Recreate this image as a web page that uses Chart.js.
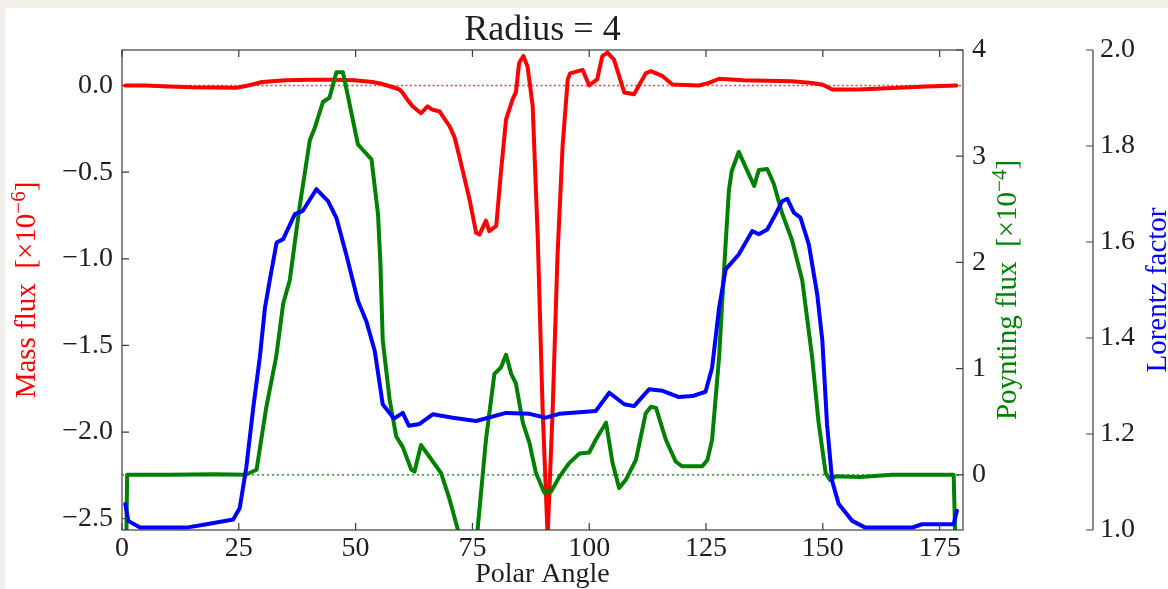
<!DOCTYPE html>
<html>
<head>
<meta charset="utf-8">
<title>Radius = 4</title>
<script src="https://cdn.jsdelivr.net/npm/chart.js@4.4.1/dist/chart.umd.min.js"></script>
<style>
  html, body { margin: 0; padding: 0; background: #f3f0eb; }
  #wrap { position: absolute; left: 5px; top: 8px; width: 1163px; height: 581px; background: #fff; }
</style>
</head>
<body>
<div id="wrap"><canvas id="fluxChart" width="1163" height="581"></canvas></div>
<script>
// Tick labels
const angleTicks = [0, 25, 50, 75, 100, 125, 150, 175];
const massTicks = [-2.5, -2.0, -1.5, -1.0, -0.5, 0.0];
const poyntingTicks = [0, 1, 2, 3, 4];
const lorentzTicks = [1.0, 1.2, 1.4, 1.6, 1.8, 2.0];

// Mass flux [x10^-6] vs polar angle
const massAngle = [0.7, 5, 10, 15, 20, 24.5, 27, 30, 35, 40, 45, 49.7, 53.6, 55.5, 58, 59.4, 60, 61.3, 62.2, 64,
  65.4, 66.5, 68, 70.1, 71.2, 72.2, 74.4, 75.8, 76.5, 77.9, 78.6, 80.1, 81.1, 82.2, 83.6, 84.3, 85, 85.9, 86.8,
  87.9, 89, 90, 91.1, 92.2, 93.2, 94.3, 95.4, 95.9, 98.6, 100, 101.7, 102.8, 103.9, 105.3, 107.5, 109.6, 112.1,
  113.2, 115.7, 117.8, 123.5, 125.6, 127.8, 133, 143.4, 147.7, 150, 152, 157.7, 165, 172, 178.6];
const massFlux = [0.0, 0.0, -0.005, -0.01, -0.012, -0.013, 0.0, 0.02, 0.03, 0.033, 0.033, 0.03, 0.02, 0.01, -0.01,
  -0.023, -0.04, -0.09, -0.12, -0.16, -0.12, -0.14, -0.15, -0.235, -0.30, -0.41, -0.66, -0.85, -0.86, -0.78, -0.84,
  -0.81, -0.50, -0.196, -0.08, -0.04, 0.13, 0.17, 0.11, -0.12, -0.89, -1.85, -2.6, -1.85, -0.99, -0.35, 0.035,
  0.07, 0.09, 0.0, 0.035, 0.17, 0.19, 0.15, -0.04, -0.05, 0.07, 0.083, 0.054, 0.006, 0.0, 0.015, 0.039, 0.03,
  0.025, 0.015, 0.005, -0.023, -0.023, -0.015, -0.005, 0.0];

// Poynting flux [x10^-4] vs polar angle
const poyntingAngle = [0.9, 1.1, 10, 20, 26.5, 28.8, 30.9, 33, 34.5, 35.9, 38, 40.2, 41.2, 43, 44.4, 45.9, 47.3,
  50.5, 53.4, 54.8, 55.3, 55.8, 57.3, 58.7, 60.1, 61.9, 62.6, 64, 65.8, 68.3, 70.1, 71.9, 74, 76.1, 77.9, 79.7,
  81.1, 82.2, 83.3, 84.3, 85.8, 87.2, 88.6, 90.4, 91.8, 93.6, 95.7, 97.9, 100, 101.4, 103.6, 105, 106.4, 107.8,
  110, 112.1, 113.2, 114.3, 116.4, 118.5, 119.9, 124.2, 125.3, 126.3, 127.8, 128.8, 129.9, 130.5, 132, 135.3,
  136.3, 138.1, 139.5, 141.3, 143.4, 145.6, 147.7, 149.1, 150.6, 151.6, 152.7, 158, 164.8, 178, 178.4];
const poyntingFlux = [-0.7, 0.0, 0.0, 0.005, 0.0, 0.047, 0.64, 1.11, 1.61, 1.83, 2.52, 3.15, 3.26, 3.51, 3.55,
  3.79, 3.79, 3.11, 2.97, 2.45, 2.0, 1.27, 0.70, 0.36, 0.26, 0.05, 0.03, 0.28, 0.17, 0.016, -0.23, -0.52, -0.8,
  -0.52, 0.33, 0.95, 1.01, 1.13, 0.95, 0.86, 0.49, 0.30, 0.016, -0.17, -0.16, -0.02, 0.11, 0.2, 0.21, 0.33, 0.49,
  0.11, -0.125, -0.05, 0.14, 0.58, 0.64, 0.63, 0.33, 0.125, 0.08, 0.08, 0.14, 0.33, 1.11, 1.89, 2.68, 2.86, 3.04,
  2.72, 2.87, 2.88, 2.74, 2.46, 2.21, 1.83, 1.11, 0.49, 0.016, -0.05, -0.015, -0.02, 0.0, 0.0, -0.7];

// Lorentz factor vs polar angle
const lorentzAngle = [0.7, 1.35, 3.85, 13.8, 18.1, 23.8, 25.2, 26.6, 28.1, 29.5, 30.6, 31.6, 33.1, 34.5, 37, 38.7,
  41.6, 44.1, 45.9, 48, 50.5, 52.3, 54.1, 55.8, 58.2, 60.1, 61.4, 63.7, 66.5, 70.8, 75.8, 82.2, 87.2, 90.7, 93.6,
  101.4, 104.3, 107.5, 109.6, 112.8, 115.7, 119.2, 122.1, 124.9, 126.3, 127.8, 129.2, 132, 134.9, 136.3, 138.1,
  139.9, 141.3, 142.4, 143.8, 145.2, 147, 148.8, 149.9, 150.9, 152, 153.4, 156.3, 159.1, 169.1, 171.2, 178, 178.7];
const lorentzFactor = [1.054, 1.019, 1.005, 1.005, 1.012, 1.022, 1.046, 1.13, 1.255, 1.36, 1.463, 1.519, 1.599,
  1.606, 1.658, 1.665, 1.71, 1.685, 1.65, 1.574, 1.477, 1.435, 1.373, 1.262, 1.232, 1.244, 1.217, 1.221, 1.241,
  1.234, 1.227, 1.244, 1.242, 1.234, 1.242, 1.248, 1.286, 1.262, 1.258, 1.293, 1.29, 1.277, 1.279, 1.288, 1.338,
  1.463, 1.543, 1.574, 1.623, 1.616, 1.626, 1.658, 1.685, 1.69, 1.661, 1.651, 1.595, 1.491, 1.394, 1.22, 1.102,
  1.054, 1.019, 1.005, 1.005, 1.012, 1.012, 1.04];

const serif = '"Liberation Serif", "Times New Roman", serif';
const textColor = '#1e1e1e';

function toPoints(xs, ys) {
  return xs.map((x, i) => ({ x: x, y: ys[i] }));
}

function fixedTicks(values) {
  return scale => { scale.ticks = values.map(v => ({ value: v })); };
}

function minusLabel(digits) {
  return v => (digits ? Number(v).toFixed(digits) : String(v)).replace('-', '\u2212');
}

// Draw a rotated (bottom-to-top) axis title with a superscript part
function drawVerticalTitle(ctx, parts, cx, cy, color) {
  ctx.save();
  ctx.translate(cx, cy);
  ctx.rotate(-Math.PI / 2);
  ctx.fillStyle = color;
  ctx.textBaseline = 'middle';
  ctx.textAlign = 'left';
  let total = 0;
  parts.forEach(p => {
    ctx.font = (p.sup ? 21 : 29) + 'px ' + serif;
    p.w = ctx.measureText(p.t).width;
    total += p.w;
  });
  let x = -total / 2;
  parts.forEach(p => {
    ctx.font = (p.sup ? 21 : 29) + 'px ' + serif;
    ctx.fillText(p.t, x, p.sup ? -8 : 0);
    x += p.w;
  });
  ctx.restore();
}

// Box, inward ticks, detached Lorentz spine and the y titles
const frameTicks = {
  id: 'frameTicks',
  afterDatasetsDraw(chart) {
    const { ctx, chartArea: a, scales } = chart;
    const tl = 7;
    ctx.save();
    ctx.strokeStyle = '#3c3c3c';
    ctx.lineWidth = 1.2;
    ctx.strokeRect(a.left, a.top, a.right - a.left, a.bottom - a.top);
    ctx.beginPath();
    angleTicks.forEach(v => {
      const x = scales.x.getPixelForValue(v);
      ctx.moveTo(x, a.bottom); ctx.lineTo(x, a.bottom - tl);
      ctx.moveTo(x, a.top); ctx.lineTo(x, a.top + tl);
    });
    massTicks.forEach(v => {
      const y = scales.y.getPixelForValue(v);
      ctx.moveTo(a.left, y); ctx.lineTo(a.left + tl, y);
    });
    poyntingTicks.forEach(v => {
      const y = scales.y1.getPixelForValue(v);
      ctx.moveTo(a.right, y); ctx.lineTo(a.right - tl, y);
    });
    const sx = scales.y2.left;
    ctx.moveTo(sx, scales.y2.getPixelForValue(2.0));
    ctx.lineTo(sx, scales.y2.getPixelForValue(1.0));
    lorentzTicks.forEach(v => {
      const y = scales.y2.getPixelForValue(v);
      ctx.moveTo(sx, y); ctx.lineTo(sx - tl, y);
    });
    ctx.stroke();
    ctx.restore();

    const cy = (a.top + a.bottom) / 2;
    drawVerticalTitle(ctx, [{ t: 'Mass flux  [\u00d710' }, { t: '\u22126', sup: true }, { t: ']' }], 22, cy, '#ff0000');
    drawVerticalTitle(ctx, [{ t: 'Poynting flux  [\u00d710' }, { t: '\u22124', sup: true }, { t: ']' }], 1003, cy, '#008000');
    drawVerticalTitle(ctx, [{ t: 'Lorentz factor' }], 1153, cy, '#0000ff');
  }
};

const lineStyle = {
  borderWidth: 4,
  pointRadius: 0,
  tension: 0,
  fill: false,
  clip: 0,
  borderJoinStyle: 'round',
  borderCapStyle: 'round'
};

const tickFont = { family: serif, size: 28 };

new Chart(document.getElementById('fluxChart'), {
  type: 'line',
  data: {
    datasets: [
      { label: 'Lorentz factor', data: toPoints(lorentzAngle, lorentzFactor), yAxisID: 'y2',
        borderColor: '#0000ff', order: 0, ...lineStyle },
      { label: 'Poynting flux', data: toPoints(poyntingAngle, poyntingFlux), yAxisID: 'y1',
        borderColor: '#008000', order: 1, ...lineStyle },
      { label: 'Mass flux', data: toPoints(massAngle, massFlux), yAxisID: 'y',
        borderColor: '#ff0000', order: 2, ...lineStyle },
      { label: 'Mass zero', data: [{ x: 0, y: 0 }, { x: 180, y: 0 }], yAxisID: 'y',
        borderColor: '#ff4040', borderWidth: 1.5, borderDash: [2, 2.5], pointRadius: 0, order: 3 },
      { label: 'Poynting zero', data: [{ x: 0, y: 0 }, { x: 180, y: 0 }], yAxisID: 'y1',
        borderColor: '#008000', borderWidth: 1.2, borderDash: [2, 3], pointRadius: 0, order: 4 }
    ]
  },
  options: {
    responsive: false,
    animation: false,
    layout: { padding: 0 },
    plugins: {
      legend: { display: false },
      tooltip: { enabled: false },
      title: {
        display: true,
        text: 'Radius = 4',
        fullSize: false,
        color: textColor,
        font: { family: serif, size: 36, weight: 'normal', lineHeight: 1 },
        padding: { top: 5, bottom: 1 }
      }
    },
    scales: {
      x: {
        type: 'linear', min: 0, max: 180, position: 'bottom',
        afterBuildTicks: fixedTicks(angleTicks),
        afterFit: s => { s.height = 59; },
        grid: { display: false, drawTicks: false },
        border: { display: false },
        ticks: { font: tickFont, color: textColor, padding: 2, maxRotation: 0, autoSkip: false },
        title: { display: true, text: 'Polar Angle', color: textColor,
          font: { family: serif, size: 28, lineHeight: 1 }, padding: { top: 0, bottom: 0 } }
      },
      y: {
        type: 'linear', position: 'left', min: -2.565, max: 0.205,
        afterBuildTicks: fixedTicks(massTicks),
        afterFit: s => { s.width = 117; },
        grid: { display: false, drawTicks: false },
        border: { display: false },
        ticks: { font: tickFont, color: textColor, padding: 9, callback: minusLabel(1) }
      },
      y1: {
        type: 'linear', position: 'right', min: -0.52, max: 4.0,
        afterBuildTicks: fixedTicks(poyntingTicks),
        afterFit: s => { s.width = 130; },
        grid: { display: false, drawTicks: false },
        border: { display: false },
        ticks: { font: tickFont, color: textColor, padding: 9, callback: minusLabel(0) }
      },
      y2: {
        type: 'linear', position: 'right', min: 1.0, max: 2.0,
        afterBuildTicks: fixedTicks(lorentzTicks),
        afterFit: s => { s.width = 75; },
        grid: { display: false, drawTicks: false },
        border: { display: false },
        ticks: { font: tickFont, color: textColor, padding: 7, callback: minusLabel(1) }
      }
    }
  },
  plugins: [frameTicks]
});
</script>
</body>
</html>
